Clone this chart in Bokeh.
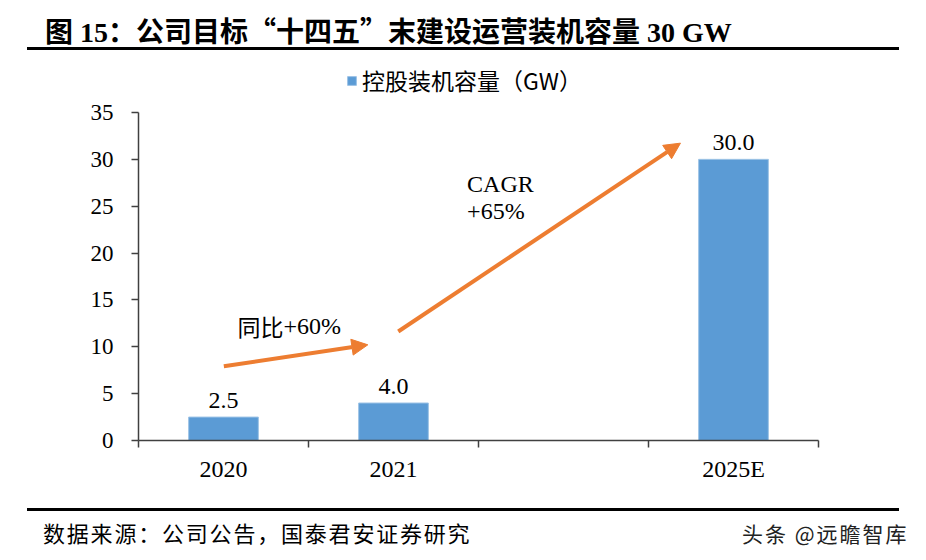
from bokeh.plotting import figure
from bokeh.models import (ColumnDataSource, Range1d, FixedTicker, Arrow, NormalHead,
                          Label, Legend, LegendItem, Div)
from bokeh.layouts import column
from bokeh.core.properties import value
from bokeh.embed import file_html
from bokeh.resources import INLINE

# ---- data ----
categories = ["2020", "2021", "", "2025E"]
capacity = [2.5, 4.0, None, 30.0]
value_labels = ["2.5", "4.0", "", "30.0"]
y_ticks = [0, 5, 10, 15, 20, 25, 30, 35]
y_max = 35
legend_label = "控股装机容量（GW）"
title_parts = ["图 15：公司目标", "“", "十四五", "”", "末建设运营装机容量 30 GW"]
source_text = "数据来源：公司公告，国泰君安证券研究"
watermark_text = "头条 @远瞻智库"
# growth annotations (data coordinates)
arrow1 = dict(x0=0.502, y0=7.93, x1=1.349, y1=10.21)
arrow2 = dict(x0=1.528, y0=11.63, x1=3.188, y1=31.73)
yoy_cn, yoy_pct = "同比", "+60%"
cagr_1, cagr_2 = "CAGR", "+65%"

SERIF = "Liberation Serif"
CJK = "Noto Sans CJK SC"
BLUE = "#5B9BD5"
ORANGE = "#ED7D31"

xs, tops, labs = [], [], []
for i, (c, v, l) in enumerate(zip(categories, capacity, value_labels)):
    if v is not None:
        xs.append(i + 0.5)
        tops.append(v)
        labs.append(l)
src = ColumnDataSource(dict(x=xs, top=tops, lab=labs))

# frame extends above the axis top (35) to host the legend; axis bounded at 0..35
frame_h, axis_h = 380, 328
p = figure(width=926, height=453, output_backend="svg", toolbar_location=None,
           x_range=Range1d(0, len(categories)),
           y_range=Range1d(0, y_max * frame_h / axis_h),
           min_border_left=138, min_border_right=108, min_border_top=8,
           min_border_bottom=65)
p.outline_line_color = None
p.xgrid.visible = False
p.ygrid.visible = False
p.background_fill_color = "white"
p.border_fill_color = "white"

bars = p.vbar(x="x", top="top", width=0.41, source=src, fill_color=BLUE,
              line_color="#9DC3E6", line_width=1)

p.text(x="x", y="top", text="lab", source=src, text_align="center",
       text_baseline="alphabetic", y_offset=-17, text_font=value(SERIF),
       text_font_size="24px", text_color="black")

# axes
xa = p.xaxis[0]
xa.ticker = FixedTicker(ticks=[i + 0.5 for i in range(len(categories))],
                        minor_ticks=list(range(len(categories) + 1)))
xa.major_label_overrides = {i + 0.5: c for i, c in enumerate(categories)}
xa.major_tick_out = 0
xa.major_tick_in = 0
xa.minor_tick_out = 7
xa.minor_tick_in = 0
xa.minor_tick_line_color = "#404040"
xa.minor_tick_line_width = 1.5
xa.axis_line_color = "#404040"
xa.axis_line_width = 1.5
xa.major_label_standoff = 8
xa.major_label_text_font = SERIF
xa.major_label_text_font_size = "24px"
xa.major_label_text_color = "black"

ya = p.yaxis[0]
ya.ticker = FixedTicker(ticks=y_ticks)
ya.bounds = (0, y_max)
ya.major_tick_out = 7
ya.major_tick_in = 0
ya.minor_tick_line_color = None
ya.major_tick_line_color = "#404040"
ya.major_tick_line_width = 1.5
ya.axis_line_color = "#404040"
ya.axis_line_width = 1.5
ya.major_label_standoff = 18
ya.major_label_text_font = SERIF
ya.major_label_text_font_size = "23px"
ya.major_label_text_color = "black"

# arrows
for a in (arrow1, arrow2):
    p.add_layout(Arrow(x_start=a["x0"], y_start=a["y0"], x_end=a["x1"], y_end=a["y1"],
                       line_color=ORANGE, line_width=4,
                       end=NormalHead(size=16, fill_color=ORANGE, line_color=ORANGE,
                                      line_width=1)))

# annotations
p.add_layout(Label(x=0.582, y=12.27, text=yoy_cn, text_font=CJK, text_font_size="23px",
                   text_baseline="alphabetic", text_color="black"))
p.add_layout(Label(x=0.582, y=12.27, x_offset=46, text=yoy_pct, text_font=SERIF,
                   text_font_size="24px", text_baseline="alphabetic", text_color="black"))
p.add_layout(Label(x=1.933, y=27.42, text=cagr_1, text_font=SERIF, text_font_size="24px",
                   text_baseline="alphabetic", text_color="black"))
p.add_layout(Label(x=1.933, y=24.44, text=cagr_2, text_font=SERIF, text_font_size="24px",
                   text_baseline="alphabetic", text_color="black"))

# legend (inside the extended frame, above the axis top)
legend = Legend(items=[LegendItem(label=legend_label, renderers=[bars])],
                location=(208, 343), orientation="horizontal",
                padding=0, margin=0, spacing=0, border_line_color=None,
                background_fill_alpha=0, glyph_width=11, glyph_height=11,
                label_standoff=5, label_text_font=CJK, label_text_font_size="23px",
                label_text_color="black", label_height=24)
p.add_layout(legend)

cjk_span = "<span style=\"font-family:'Noto Sans CJK SC';\">{}</span>"
title_html = "".join(cjk_span.format(t) if t in ("“", "”") else t for t in title_parts)

title = Div(text=(
    '<div style="position:relative;width:926px;height:52px;">'
    '<div style="position:absolute;left:45px;top:14px;white-space:nowrap;'
    "font-weight:bold;font-size:28px;line-height:32px;"
    "font-family:'Liberation Serif','Noto Sans CJK SC';color:#000;\">"
    + title_html +
    '</div><div style="position:absolute;left:27px;top:47px;width:872px;height:3px;'
    'background:#000;"></div></div>'), width=926, height=52, margin=(0, 0, 0, 0))

footer = Div(text=(
    '<div style="position:relative;width:926px;height:55px;">'
    '<div style="position:absolute;left:27px;top:3px;width:872px;height:3px;'
    'background:#000;"></div>'
    '<div style="position:absolute;left:43px;top:13px;white-space:nowrap;'
    "font-size:22px;line-height:28px;letter-spacing:1.8px;"
    "font-family:'Noto Sans CJK SC';color:#000;\">" + source_text + '</div>'
    '<div style="position:absolute;left:742px;top:15px;white-space:nowrap;'
    "font-size:21px;line-height:26px;letter-spacing:2px;"
    "font-family:'Noto Sans CJK SC';color:#222;\">"
    + watermark_text + '</div></div>'), width=926, height=55, margin=(0, 0, 0, 0))

layout = column(title, p, footer, spacing=0)
open("out.html", "w").write(file_html(layout, INLINE))
